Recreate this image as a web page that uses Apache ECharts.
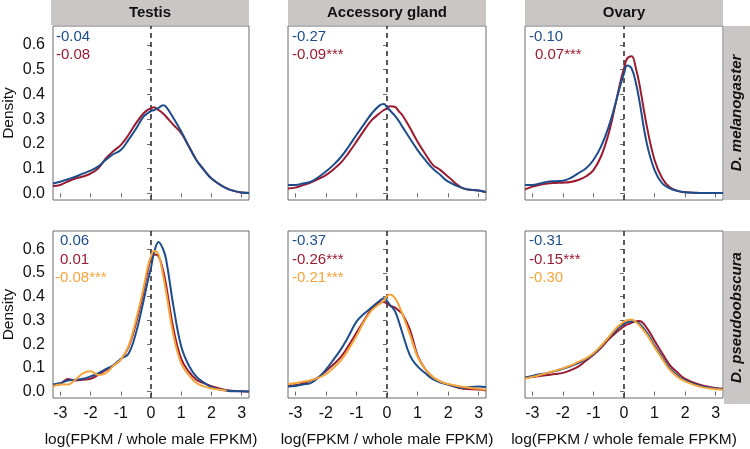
<!DOCTYPE html>
<html><head><meta charset="utf-8">
<script src="https://cdn.jsdelivr.net/npm/echarts@6/dist/echarts.min.js"></script>
<style>html,body{margin:0;padding:0;background:#fff}#c{width:750px;height:449px}</style>
</head><body><div id="c"></div>
<script>
// ---- data ----
const xs = [-3.24,-3,-2.75,-2.5,-2.25,-2,-1.75,-1.5,-1.25,-1,-0.75,-0.5,-0.25,-0.1,0,0.1,0.25,0.4,0.5,0.75,1,1.25,1.5,1.75,2,2.5,3,3.24];
const xTicks = [-3,-2,-1,0,1,2,3];
const yTicks = [0,0.1,0.2,0.3,0.4,0.5,0.6];
const tissues = ['Testis','Accessory gland','Ovary'];
const species = ['D. melanogaster','D. pseudoobscura'];
const xTitles = ['log(FPKM / whole male FPKM)','log(FPKM / whole male FPKM)','log(FPKM / whole female FPKM)'];

// D. melanogaster
const melTestisBlue = [0.040,0.047,0.057,0.067,0.080,0.092,0.108,0.135,0.158,0.175,0.215,0.26,0.31,0.325,0.333,0.337,0.346,0.356,0.350,0.303,0.25,0.19,0.135,0.095,0.06,0.02,0.003,0.001];
const melTestisRed  = [0.030,0.034,0.048,0.060,0.068,0.080,0.100,0.140,0.170,0.195,0.235,0.283,0.323,0.338,0.344,0.348,0.337,0.323,0.31,0.276,0.243,0.19,0.135,0.095,0.06,0.02,0.003,0.001];
const melAccBlue = [0.034,0.034,0.040,0.047,0.065,0.088,0.115,0.148,0.19,0.236,0.28,0.323,0.355,0.361,0.348,0.335,0.315,0.29,0.27,0.222,0.175,0.135,0.10,0.074,0.047,0.02,0.011,0.005];
const melAccRed  = [0.020,0.023,0.033,0.044,0.058,0.074,0.097,0.125,0.165,0.209,0.255,0.296,0.323,0.337,0.344,0.352,0.350,0.33,0.317,0.265,0.209,0.16,0.115,0.094,0.067,0.02,0.011,0.004];
const melOvaBlue = [0.034,0.034,0.040,0.047,0.049,0.051,0.062,0.081,0.100,0.135,0.19,0.27,0.377,0.445,0.485,0.517,0.505,0.44,0.377,0.2,0.094,0.04,0.02,0.01,0.004,0.001,0.001,0.001];
const melOvaRed  = [0.016,0.027,0.035,0.040,0.042,0.043,0.046,0.054,0.068,0.094,0.15,0.243,0.377,0.46,0.505,0.545,0.555,0.50,0.445,0.27,0.135,0.061,0.024,0.01,0.004,0.001,0.001,0.001];
// D. pseudoobscura
const pseTestisBlue = [0.03,0.036,0.047,0.05,0.054,0.064,0.077,0.095,0.11,0.138,0.158,0.246,0.381,0.47,0.523,0.585,0.631,0.60,0.557,0.354,0.19,0.11,0.063,0.038,0.019,0.004,0.001,0.0];
const pseTestisRed  = [0.026,0.032,0.053,0.047,0.05,0.054,0.07,0.09,0.11,0.135,0.185,0.286,0.42,0.515,0.564,0.578,0.57,0.51,0.449,0.26,0.138,0.084,0.05,0.035,0.023,0.006,0.001,0.0];
const pseTestisOrange = [0.023,0.03,0.03,0.05,0.077,0.086,0.07,0.077,0.108,0.135,0.19,0.3,0.435,0.53,0.57,0.593,0.577,0.49,0.42,0.232,0.118,0.07,0.036,0.022,0.013,0.004,null,null];
const pseAccBlue = [0.022,0.024,0.03,0.036,0.058,0.093,0.135,0.18,0.235,0.295,0.328,0.355,0.382,0.393,0.382,0.365,0.342,0.29,0.248,0.153,0.106,0.078,0.052,0.038,0.03,0.016,0.022,0.019];
const pseAccRed  = [0.026,0.027,0.035,0.046,0.06,0.086,0.115,0.147,0.195,0.248,0.30,0.349,0.375,0.378,0.371,0.362,0.355,0.34,0.328,0.261,0.153,0.095,0.059,0.042,0.03,0.012,0.009,0.005];
const pseAccOrange = [0.032,0.036,0.042,0.048,0.058,0.073,0.10,0.133,0.18,0.234,0.295,0.342,0.369,0.385,0.402,0.409,0.396,0.36,0.328,0.241,0.147,0.095,0.062,0.042,0.032,0.019,0.012,0.008];
const pseOvaBlue = [0.058,0.066,0.073,0.079,0.087,0.096,0.107,0.12,0.137,0.159,0.19,0.227,0.26,0.277,0.287,0.292,0.297,0.293,0.287,0.248,0.194,0.145,0.098,0.068,0.047,0.024,0.013,0.01];
const pseOvaRed  = [0.058,0.062,0.066,0.07,0.074,0.079,0.09,0.105,0.13,0.155,0.185,0.22,0.25,0.265,0.275,0.282,0.29,0.297,0.298,0.268,0.214,0.162,0.112,0.08,0.054,0.028,0.015,0.012];
const pseOvaOrange = [0.055,0.062,0.07,0.079,0.088,0.098,0.11,0.125,0.14,0.162,0.193,0.23,0.268,0.285,0.295,0.301,0.304,0.292,0.28,0.24,0.187,0.138,0.092,0.062,0.043,0.02,0.01,0.008];

// annotation labels per panel: [text, colourKey]
const annMel = [
  [['-0.04','blue'],['-0.08','red']],
  [['-0.27','blue'],['-0.09***','red']],
  [['-0.10','blue'],['0.07***','red']]
];
const annPse = [
  [['0.06','blue'],['0.01','red'],['-0.08***','orange']],
  [['-0.37','blue'],['-0.26***','red'],['-0.21***','orange']],
  [['-0.31','blue'],['-0.15***','red'],['-0.30','orange']]
];

// ---- styling / layout ----
const COL = {blue:'#1d4e8b', red:'#9b1b30', orange:'#f6a53b'};
const FONT = '"Liberation Sans", Arial, sans-serif';
const colLeft = [51, 288, 525];
const colW = 198;
const rowTop = [26, 231];
const rowH = [174, 173];
const stripColor = '#cac6c6';
const borderColor = '#6a6a6a';

const panels = [
  [[['red',melTestisRed],['blue',melTestisBlue]], [['red',melAccRed],['blue',melAccBlue]], [['red',melOvaRed],['blue',melOvaBlue]]],
  [[['red',pseTestisRed],['blue',pseTestisBlue],['orange',pseTestisOrange]],
   [['red',pseAccRed],['blue',pseAccBlue],['orange',pseAccOrange]],
   [['red',pseOvaRed],['blue',pseOvaBlue],['orange',pseOvaOrange]]]
];
const anns = [annMel, annPse];
const annX = [
  [[56,56],[292,292],[529,535]],
  [[60,60,55],[292,292,292],[529,529,529]]
];
const annY = [[37,55],[241,259.5,278]];

const grid=[], xAxis=[], yAxis=[], series=[], graphic=[];
let gi = 0;
for (let r=0;r<2;r++){
  for (let c=0;c<3;c++){
    grid.push({left:colLeft[c], top:rowTop[r], width:colW, height:rowH[r], show:true, borderColor:borderColor, borderWidth:1, backgroundColor:'#fff'});
    xAxis.push({type:'value', gridIndex:gi, min:-3.24, max:3.24,
      axisLine:{show:false}, splitLine:{show:false},
      axisTick:{show:true, customValues:xTicks, length:4, lineStyle:{color:borderColor}},
      axisLabel:{show:r===1, customValues:xTicks, margin:8, color:'#111', fontSize:16, fontFamily:FONT},
      name: r===1 ? xTitles[c] : '', nameLocation:'middle', nameGap:34,
      nameTextStyle:{color:'#111', fontSize:15.5, fontFamily:FONT}
    });
    yAxis.push({type:'value', gridIndex:gi, min:-0.027, max:0.677,
      axisLine:{show:false}, splitLine:{show:false},
      axisTick:{show:true, customValues:yTicks, length:4, lineStyle:{color:borderColor}},
      axisLabel:{show:c===0, customValues:yTicks, margin:8, color:'#111', fontSize:16, fontFamily:FONT, formatter:v=>v.toFixed(1)},
      name: c===0 ? 'Density' : '', nameLocation:'middle', nameGap:36,
      nameTextStyle:{color:'#111', fontSize:15.5, fontFamily:FONT}
    });
    const ser = panels[r][c];
    ser.forEach((s,k)=>{
      const o = {type:'line', xAxisIndex:gi, yAxisIndex:gi, data: xs.map((x,i)=>[x,s[1][i]]),
        smooth:0.4, showSymbol:false, symbol:'none', lineStyle:{color:COL[s[0]], width:2}, connectNulls:false, animation:false, silent:true, z:3+k};
      if (k===0){
        o.markLine = {silent:true, symbol:['none','none'], animation:false, label:{show:false},
          lineStyle:{type:[5,4], color:'#333', width:1.6}, data:[{xAxis:0}], z:2};
      }
      series.push(o);
    });
    anns[r][c].forEach((a,k)=>{
      graphic.push({type:'text', x:annX[r][c][k], y:annY[r][k], z:10,
        style:{text:a[0], fill:COL[a[1]], fontSize:15, fontFamily:FONT, align:'left', verticalAlign:'middle'}});
    });
    gi++;
  }
}
// top strips
for (let c=0;c<3;c++){
  graphic.push({type:'rect', shape:{x:colLeft[c], y:0, width:colW, height:25}, style:{fill:stripColor}, z:1});
  graphic.push({type:'text', x:colLeft[c]+colW/2, y:13, z:2,
    style:{text:tissues[c], fill:'#111', fontSize:15, fontWeight:'bold', fontFamily:FONT, align:'center', verticalAlign:'middle'}});
}
// right strips (text reads bottom to top)
for (let r=0;r<2;r++){
  graphic.push({type:'rect', shape:{x:724, y:rowTop[r], width:26, height:rowH[r]}, style:{fill:stripColor}, z:1});
  graphic.push({type:'text', x:737, y:rowTop[r]+rowH[r]/2, rotation:Math.PI/2, z:2,
    style:{text:species[r], fill:'#111', fontSize:15, fontWeight:'bold', fontStyle:'italic', fontFamily:FONT, align:'center', verticalAlign:'middle'}});
}

const chart = echarts.init(document.getElementById('c'), null, {renderer:'canvas'});
chart.setOption({animation:false, backgroundColor:'#fff', grid, xAxis, yAxis, series, graphic});
</script></body></html>
